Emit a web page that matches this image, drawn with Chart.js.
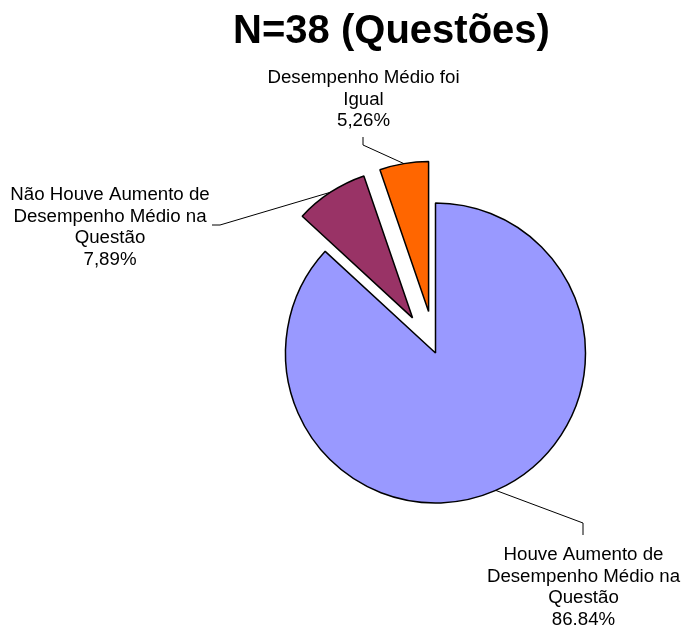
<!DOCTYPE html>
<html lang="pt">
<head>
<meta charset="utf-8">
<title>N=38 (Questões)</title>
<script src="https://cdn.jsdelivr.net/npm/chart.js@4/dist/chart.umd.min.js"></script>
<style>
  html, body { margin: 0; padding: 0; background: #fff; }
  #wrap { width: 683px; height: 627px; }
</style>
</head>
<body>
<div id="wrap"><canvas id="pieChart" width="683" height="627"></canvas></div>
<script>
// Questions grouped by how the average performance changed
const titleText = "N=38 (Questões)";
const categories = [
    ["Houve Aumento de", "Desempenho Médio na", "Questão"],
    ["Não Houve Aumento de", "Desempenho Médio na", "Questão"],
    ["Desempenho Médio foi", "Igual"]
];
const percentages = [86.84, 7.89, 5.26];
const decimalMarks = [".", ",", ","];
const sliceColors = ["#9999ff", "#993366", "#ff6600"];

const fontFamily = "'Liberation Sans', Arial, sans-serif";

// how far each slice is pulled out of the pie
const explode = [0, 42, 42];

// where each label block sits and how its leader line bends
const labelPlacement = [
    { x: 583.5, baseline: 560, elbow: [583, 523], end: [583, 535] },
    { x: 110, baseline: 200, elbow: [220, 225], end: [212, 225] },
    { x: 363.5, baseline: 83, elbow: [363, 145], end: [363, 137] }
];
const lineStep = 21.7;

function percentText(i) {
    return percentages[i].toFixed(2).replace(".", decimalMarks[i]) + "%";
}

function shift(arc, i) {
    const mid = (arc.startAngle + arc.endAngle) / 2;
    return { mid, dx: Math.cos(mid) * explode[i], dy: Math.sin(mid) * explode[i] };
}

// Pull the slices out ourselves so they keep the full radius
const explodePlugin = {
    id: "explode",
    beforeDatasetDraw(chart, args) {
        const ctx = chart.ctx;
        args.meta.data.forEach((arc, i) => {
            const s = shift(arc, i);
            ctx.save();
            ctx.translate(s.dx, s.dy);
            arc.draw(ctx);
            ctx.restore();
        });
        return false;
    }
};

// Title, data labels and leader lines
const annotatePlugin = {
    id: "annotate",
    afterDatasetsDraw(chart) {
        const ctx = chart.ctx;
        const arcs = chart.getDatasetMeta(0).data;
        ctx.save();

        arcs.forEach((arc, i) => {
            const p = labelPlacement[i];
            const s = shift(arc, i);
            const ax = arc.x + s.dx + Math.cos(s.mid) * arc.outerRadius;
            const ay = arc.y + s.dy + Math.sin(s.mid) * arc.outerRadius;

            ctx.strokeStyle = "#000";
            ctx.lineWidth = 1;
            ctx.beginPath();
            ctx.moveTo(ax, ay);
            ctx.lineTo(p.elbow[0], p.elbow[1]);
            ctx.lineTo(p.end[0], p.end[1]);
            ctx.stroke();

            const lines = categories[i].concat([percentText(i)]);
            ctx.fillStyle = "#000";
            ctx.font = "18.7px " + fontFamily;
            ctx.textAlign = "center";
            ctx.textBaseline = "alphabetic";
            lines.forEach((t, k) => ctx.fillText(t, p.x, p.baseline + k * lineStep));
        });

        ctx.font = "bold 40px " + fontFamily;
        ctx.textAlign = "center";
        ctx.fillText(titleText, 391.5, 43);
        ctx.restore();
    }
};

const ctx = document.getElementById("pieChart").getContext("2d");
const myChart = new Chart(ctx, {
    type: "pie",
    data: {
        labels: categories.map(c => c.join(" ")),
        datasets: [{
            data: percentages,
            backgroundColor: sliceColors,
            borderColor: "#000",
            borderWidth: 1.5,
            hoverBorderWidth: 1.5,
            offset: 0,
            hoverOffset: 0,
            radius: 150
        }]
    },
    options: {
        responsive: false,
        animation: false,
        events: [],
        layout: { padding: { left: 200, right: 12, top: 90, bottom: 11 } },
        plugins: {
            legend: { display: false },
            title: { display: false },
            tooltip: { enabled: false }
        }
    },
    plugins: [explodePlugin, annotatePlugin]
});
</script>
</body>
</html>
